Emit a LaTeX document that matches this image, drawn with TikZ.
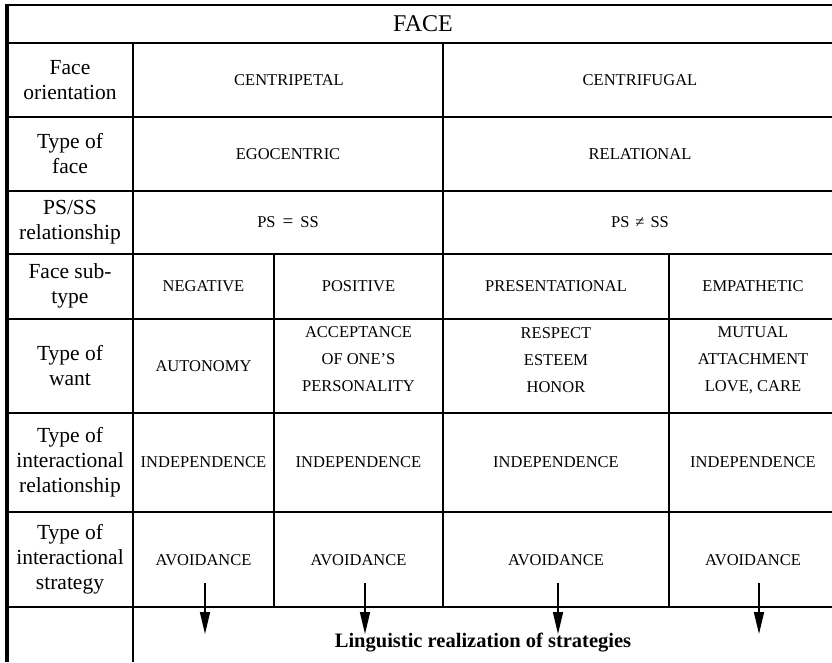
\documentclass[tikz,border=0pt]{standalone}
\usepackage{fontspec}
\setmainfont{Liberation Serif}
\usetikzlibrary{arrows.meta}
\begin{document}
\begin{tikzpicture}[x=1pt,y=-1pt,
  rule/.style={line width=2.2pt},
  border/.style={line width=3.2pt},
  hdr/.style={align=center,inner sep=0pt,font={\fontsize{21.5}{25}\selectfont}},
  cell/.style={align=center,inner sep=0pt,font={\fontsize{16.5}{27}\selectfont}},
  title/.style={inner sep=0pt,font={\fontsize{24}{28}\selectfont}},
  foot/.style={inner sep=0pt,font={\fontsize{20.5}{24}\selectfont\bfseries}},
  flow/.style={line width=1.6pt,-{Triangle[length=22pt,width=10pt]}}]
\useasboundingbox (0,0) rectangle (832,662);
% horizontal rules
\foreach \yy in {5,43,117,191,254,319,413,512,607}
  \draw[rule] (7,\yy) -- (832,\yy);
% vertical rules
\draw[border] (7,3.9) -- (7,662);
\draw[rule] (133,43) -- (133,662);
\draw[rule] (443,43) -- (443,607);
\draw[rule] (274,254) -- (274,607);
\draw[rule] (669,254) -- (669,607);
% title
\node[title] (face) at (423,24) {FACE};
% row headers
\node[hdr] (h1) at (70,80) {Face\\orientation};
\node[hdr] (h2) at (70,154) {Type of\\face};
\node[hdr] (h3) at (70,222) {PS/SS\\relationship};
\node[hdr] (h4) at (70,286) {Face sub-\\type};
\node[hdr] (h5) at (70,366) {Type of\\want};
\node[hdr] (h6) at (70,462) {Type of\\interactional\\relationship};
\node[hdr] (h7) at (70,559) {Type of\\interactional\\strategy};
% content
\node[cell] (c1a) at (289,80) {CENTRIPETAL};
\node[cell] (c1b) at (640,80) {CENTRIFUGAL};
\node[cell] (c2a) at (288,154) {EGOCENTRIC};
\node[cell] (c2b) at (640,154) {RELATIONAL};
\node[cell] (c3a) at (288,222) {PS\hspace{7pt}{\fontsize{19}{27}\selectfont =}\hspace{7pt}SS};
\node[cell] (c3b) at (640,222) {PS\hspace{6pt}≠\hspace{6pt}SS};
\node[cell] (c4a) at (203.5,286) {NEGATIVE};
\node[cell] (c4b) at (358.5,286) {POSITIVE};
\node[cell] (c4c) at (556,286) {PRESENTATIONAL};
\node[cell] (c4d) at (753,286) {EMPATHETIC};
\node[cell] (c5a) at (203.5,366) {AUTONOMY};
\node[cell] (c5b) at (358.5,359) {ACCEPTANCE\\OF ONE’S\\PERSONALITY};
\node[cell] (c5c) at (556,360) {RESPECT\\ESTEEM\\HONOR};
\node[cell] (c5d) at (753,360) {MUTUAL\\ATTACHMENT\\LOVE, CARE};
\node[cell] (c6a) at (203.5,462) {INDEPENDENCE};
\node[cell] (c6b) at (358.5,462) {INDEPENDENCE};
\node[cell] (c6c) at (556,462) {INDEPENDENCE};
\node[cell] (c6d) at (753,462) {INDEPENDENCE};
\node[cell] (c7a) at (203.5,560) {AVOIDANCE};
\node[cell] (c7b) at (358.5,560) {AVOIDANCE};
\node[cell] (c7c) at (556,560) {AVOIDANCE};
\node[cell] (c7d) at (753,560) {AVOIDANCE};
\node[foot] (lr) at (483,643) {Linguistic realization of strategies};
% arrows
\coordinate (s1) at (205,583); \coordinate (e1) at (205,634);
\coordinate (s2) at (365,583); \coordinate (e2) at (365,634);
\coordinate (s3) at (558,583); \coordinate (e3) at (558,634);
\coordinate (s4) at (759,583); \coordinate (e4) at (759,634);
\draw[flow] (s1) -- (e1);
\draw[flow] (s2) -- (e2);
\draw[flow] (s3) -- (e3);
\draw[flow] (s4) -- (e4);
\end{tikzpicture}
\end{document}
